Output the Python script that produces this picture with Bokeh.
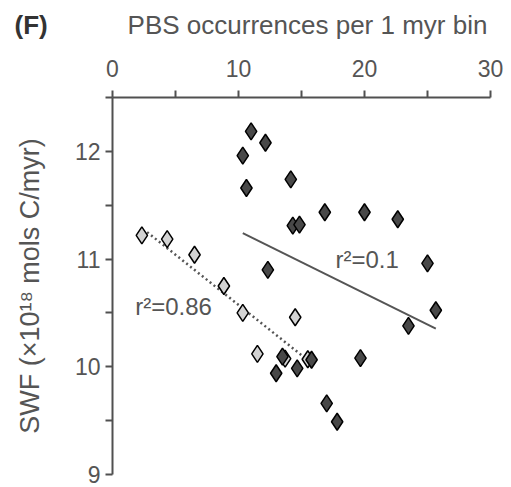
from bokeh.plotting import figure
from bokeh.models import FixedTicker, ColumnDataSource, Range1d, Div
from bokeh.layouts import column
from bokeh.core.properties import value
from bokeh.embed import file_html
from bokeh.resources import INLINE

# --- data ---
light_x = [2.33, 4.34, 6.51, 8.84, 10.34, 11.5, 13.7, 14.5, 15.5]
light_y = [11.22, 11.185, 11.04, 10.75, 10.50, 10.12, 10.075, 10.46, 10.07]

dark_x = [11.0, 12.14, 10.34, 14.15, 10.63, 14.31, 14.84, 12.33, 16.85, 20.0,
          22.64, 25.0, 25.66, 23.49, 13.49, 12.99, 14.66, 15.8, 19.68, 17.0, 17.83]
dark_y = [12.185, 12.08, 11.96, 11.74, 11.66, 11.31, 11.32, 10.90, 11.435, 11.435,
          11.37, 10.96, 10.525, 10.38, 10.095, 9.94, 9.985, 10.065, 10.08, 9.66, 9.49]

dark_fit_x = [10.34, 25.66]
dark_fit_y = [11.24, 10.355]
light_fit_x = [2.75, 15.3]
light_fit_y = [11.25, 10.08]

label_x = [17.7, 1.8]
label_y = [11.0, 10.56]
label_text = ["r\u00b2=0.1", "r\u00b2=0.86"]

x_ticks = [0, 10, 20, 30]
x_minor = [5, 15, 25]
y_ticks = [9, 10, 11, 12]
y_minor = [9.5, 10.5, 11.5, 12.5]

panel_tag = "(F)"
x_title = "PBS occurrences per 1 myr bin"
y_title = "SWF (\u00d710\u00b9\u2078 mols C/myr)"

FONT = "Liberation Sans"
TXT = "#555555"
AX = "#505050"
W, HH, H = 511, 46, 441

p = figure(width=W, height=H, x_range=(0, 30), y_range=(9, 12.5),
           x_axis_location="above", output_backend="svg", toolbar_location=None,
           min_border_left=112, min_border_right=21, min_border_top=97 - HH,
           min_border_bottom=13)
p.outline_line_color = None
p.xgrid.visible = False
p.ygrid.visible = False
p.background_fill_color = "white"

# header strip with panel tag and x-axis title
hdr = figure(width=W, height=HH, x_range=Range1d(0, W), y_range=Range1d(HH, 0),
             x_axis_type=None, y_axis_type=None,
             output_backend="svg", toolbar_location=None,
             min_border_left=0, min_border_right=0, min_border_top=0, min_border_bottom=0)
use_fig_header = True
try:
    hdr.frame_align = False
    p.frame_align = False
except Exception:
    use_fig_header = False

if use_fig_header:
    hdr.grid.visible = False
    hdr.outline_line_color = None
    hdr.text(x=[14], y=[24], text=[panel_tag], text_font=value(FONT), text_font_size="26px",
             text_font_style="bold", text_color="#333333", text_baseline="middle",
             text_align="left")
    hdr.text(x=[307], y=[24], text=[x_title], text_font=value(FONT), text_font_size="26px",
             text_color=TXT, text_baseline="middle", text_align="center")
    header = hdr
else:
    header = Div(width=W, height=HH, margin=0, text=(
        f'<div style="position:relative;width:{W}px;height:{HH}px;font-family:{FONT};">'
        f'<span style="position:absolute;left:14px;top:8px;font-size:26px;font-weight:bold;color:#333333">{panel_tag}</span>'
        f'<span style="position:absolute;left:124px;top:8px;font-size:26px;color:{TXT}">{x_title}</span>'
        '</div>'))

for ax, ticks, minor in ((p.xaxis[0], x_ticks, x_minor), (p.yaxis[0], y_ticks, y_minor)):
    ax.ticker = FixedTicker(ticks=ticks, minor_ticks=minor)
    ax.major_tick_in = 0
    ax.major_tick_out = 7
    ax.minor_tick_in = 0
    ax.minor_tick_out = 7
    ax.axis_line_color = AX
    ax.axis_line_width = 2
    ax.major_tick_line_color = AX
    ax.major_tick_line_width = 2
    ax.minor_tick_line_color = AX
    ax.minor_tick_line_width = 2
    ax.major_label_text_font = FONT
    ax.major_label_text_font_size = "23px"
    ax.major_label_text_color = TXT
    ax.axis_label_text_font = FONT
    ax.axis_label_text_font_style = "normal"
    ax.axis_label_text_color = TXT

p.xaxis.major_label_standoff = 14
p.yaxis.axis_label = y_title
p.yaxis.axis_label_text_font_size = "27px"
p.yaxis.major_label_standoff = 5
p.yaxis.axis_label_standoff = 27

# regression lines
p.line(dark_fit_x, dark_fit_y, line_color="#555555", line_width=2)
p.line(light_fit_x, light_fit_y, line_color="#555555", line_width=2.5, line_dash="2 3")

# points
p.scatter(light_x, light_y, marker="diamond", size=17, fill_color="#d3d3d3",
          line_color="black", line_width=1.5)
p.scatter(dark_x, dark_y, marker="diamond", size=17, fill_color="#484848",
          line_color="black", line_width=1.5)

src = ColumnDataSource(dict(x=label_x, y=label_y, t=label_text))
p.text(x="x", y="y", text="t", source=src, text_font=value(FONT),
       text_font_size="24px", text_color=TXT, text_baseline="alphabetic")

layout = column(header, p, spacing=0)
open("out.html", "w").write(file_html(layout, INLINE))
